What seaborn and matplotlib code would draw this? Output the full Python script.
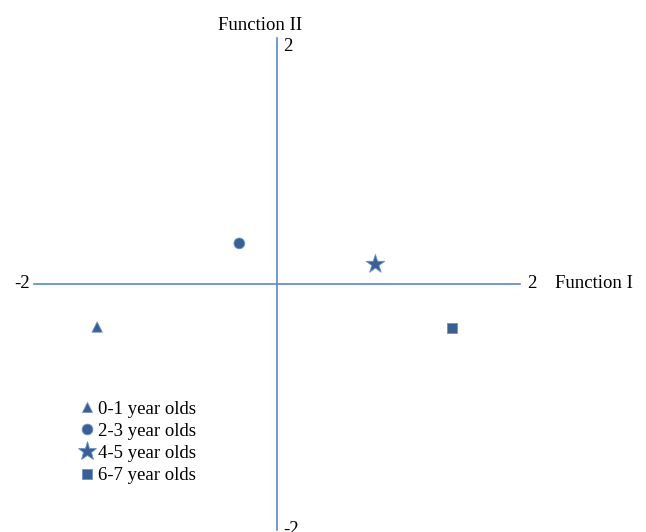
import matplotlib
matplotlib.use("Agg")
import matplotlib.pyplot as plt
import seaborn as sns
import pandas as pd

groups = ["0-1 year olds", "2-3 year olds", "4-5 year olds", "6-7 year olds"]
func1 = [-1.48, -0.31, 0.81, 1.44]
func2 = [-0.35, 0.33, 0.16, -0.36]

df = pd.DataFrame({"Function I": func1, "Function II": func2, "group": groups})

sns.set_style("white")
plt.rcParams["font.family"] = ["Liberation Serif", "DejaVu Serif"]
plt.rcParams["text.color"] = "black"

W, H = 646, 532
fig = plt.figure(figsize=(W / 100, H / 100), dpi=100)
ax = fig.add_axes([34 / W, 2 / H, 486 / W, 492 / H])

marker_color = "#3A6093"
line_color = "#5B88C6"
markers = {groups[0]: "^", groups[1]: "o", groups[2]: "*", groups[3]: "s"}
sizes = {groups[0]: 55, groups[1]: 60, groups[2]: 200, groups[3]: 55}

sns.scatterplot(data=df, x="Function I", y="Function II", style="group",
                markers=markers, hue="group",
                palette=[marker_color] * 4, size="group", sizes=sizes,
                edgecolor="#6E93C4", linewidth=0.6, ax=ax, legend=True, zorder=3)

ax.set_xlim(-2, 2)
ax.set_ylim(-2, 2)
for s in ["top", "right"]:
    ax.spines[s].set_visible(False)
for s in ["left", "bottom"]:
    ax.spines[s].set_position("zero")
    ax.spines[s].set_color(line_color)
    ax.spines[s].set_linewidth(1.2)
ax.set_xticks([])
ax.set_yticks([])
ax.set_xlabel("")
ax.set_ylabel("")

fs = 13.5
ax.text(-2.03, 0, "-2", ha="right", va="center", fontsize=fs, color="black")
ax.text(2.06, 0, "2", ha="left", va="center", fontsize=fs, color="black")
ax.text(2.29, 0, "Function I", ha="left", va="center", fontsize=fs, color="black")
ax.text(0.05, 2.0, "2", ha="left", va="top", fontsize=fs, color="black")
ax.text(-0.14, 2.03, "Function II", ha="center", va="bottom", fontsize=fs, color="black")
ax.text(0.05, -2.0, "-2", ha="left", va="center", fontsize=fs, color="black")

handles, labels = ax.get_legend_handles_labels()
leg = ax.legend(handles=handles, labels=labels, loc="upper left",
                bbox_to_anchor=(68 / W, 1 - 391 / H), bbox_transform=fig.transFigure,
                frameon=False, fontsize=fs, handletextpad=0.1, labelspacing=0.27,
                borderpad=0, handlelength=1.0)
for t in leg.get_texts():
    t.set_color("black")

fig.savefig("out.png", dpi=100)
